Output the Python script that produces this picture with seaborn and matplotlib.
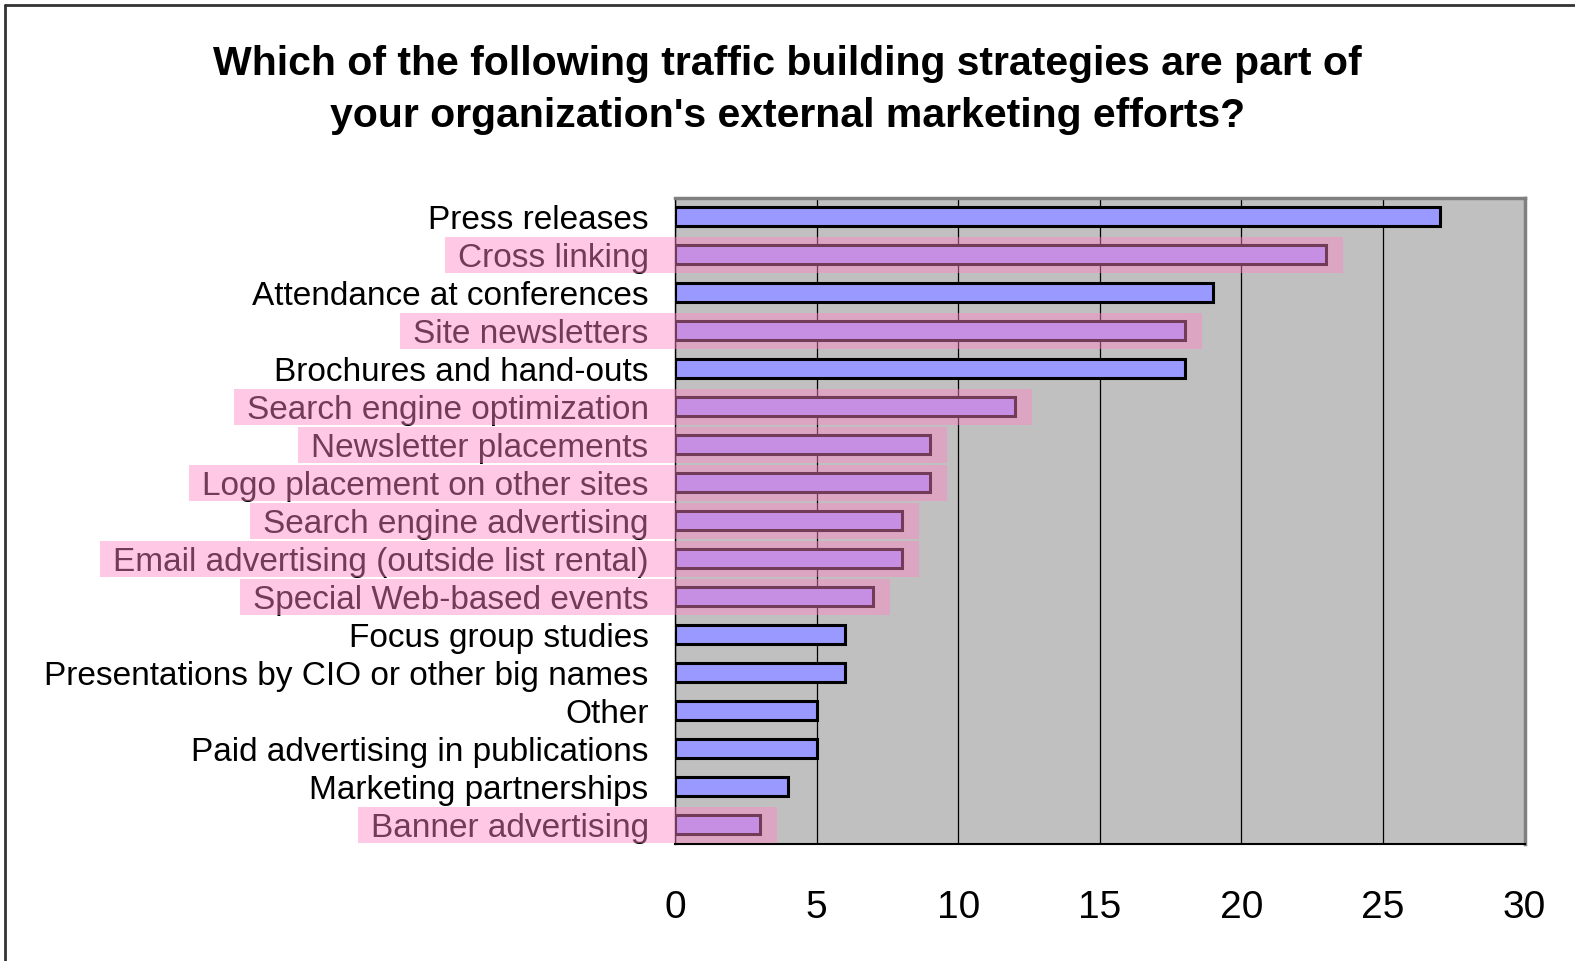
import numpy as np
import pandas as pd
import seaborn as sns
import matplotlib.pyplot as plt
from matplotlib.patches import Rectangle
from matplotlib.lines import Line2D

# data
strategies = [
    "Press releases", "Cross linking", "Attendance at conferences",
    "Site newsletters", "Brochures and hand-outs", "Search engine optimization",
    "Newsletter placements", "Logo placement on other sites",
    "Search engine advertising", "Email advertising (outside list rental)",
    "Special Web-based events", "Focus group studies",
    "Presentations by CIO or other big names", "Other",
    "Paid advertising in publications", "Marketing partnerships",
    "Banner advertising",
]
counts = [27, 23, 19, 18, 18, 12, 9, 9, 8, 8, 7, 6, 6, 5, 5, 4, 3]
highlighted = [
    "Cross linking", "Site newsletters", "Search engine optimization",
    "Newsletter placements", "Logo placement on other sites",
    "Search engine advertising", "Email advertising (outside list rental)",
    "Special Web-based events", "Banner advertising",
]
x_ticks = [0, 5, 10, 15, 20, 25, 30]
title = ("Which of the following traffic building strategies are part of\n"
         "your organization's external marketing efforts?")

df = pd.DataFrame({"strategy": strategies, "count": counts})

sns.set_style("white")
plt.rcParams['font.family'] = ['Liberation Sans', 'DejaVu Sans']
plt.rcParams['text.color'] = 'black'
plt.rcParams['xtick.color'] = 'black'
plt.rcParams['ytick.color'] = 'black'

fig = plt.figure(figsize=(15.75, 9.61), dpi=100)
ax = fig.add_axes([0.4286, 0.122, 0.5394, 0.672])

sns.barplot(data=df, x="count", y="strategy", orient="h", ax=ax,
            color="#9999ff", saturation=1, width=0.5,
            edgecolor="black", linewidth=2.2, zorder=3)

ax.set_facecolor("#c0c0c0")
ax.set_xlim(0, 30)
ax.set_ylim(len(strategies) - 0.5, -0.5)
ax.set_xticks(x_ticks)
ax.set_xticklabels([str(t) for t in x_ticks], fontsize=28)
ax.tick_params(axis="x", direction="out", length=14, width=1, pad=19)
ax.xaxis.grid(True, color="black", linewidth=0.9, zorder=0)
ax.set_axisbelow(True)

# category labels, tick marks between categories (Excel style)
ax.set_yticks(np.arange(len(strategies)))
ax.set_yticklabels(strategies, fontsize=24)
ax.tick_params(axis="y", which="major", length=0, pad=19)
ax.set_yticks(np.arange(-0.5, len(strategies), 1), minor=True)
ax.tick_params(axis="y", which="minor", direction="out", length=8, width=1)
ax.set_xlabel("")
ax.set_ylabel("")

for side in ["top", "right"]:
    ax.spines[side].set_color("#808080")
    ax.spines[side].set_linewidth(2.5)
ax.spines["left"].set_color("black")
ax.spines["left"].set_linewidth(1)
ax.spines["bottom"].set_color("black")
ax.spines["bottom"].set_linewidth(1.5)

fig.suptitle(title, fontsize=29.5, fontweight="bold", y=0.953, va="top",
             linespacing=1.45, color="black")

# pink highlight overlay across the marked rows (label + bar)
fig.canvas.draw()
renderer = fig.canvas.get_renderer()
inv = ax.transData.inverted()
for lab, val in zip(ax.get_yticklabels(), counts):
    if lab.get_text() not in highlighted:
        continue
    bb = lab.get_window_extent(renderer)
    row = strategies.index(lab.get_text())
    x_left = inv.transform((bb.x0 - 13, 0))[0]
    x_right = val + 0.6
    ax.add_patch(Rectangle((x_left, row - 0.475), x_right - x_left, 0.95,
                           facecolor="#ff85c4", alpha=0.45, edgecolor="none",
                           clip_on=False, zorder=5))

# outer frame: only left and top edges visible in the reference
top_y = 1 - 5 / 961
left_x = 5 / 1575
fig.add_artist(Line2D([left_x, 1.0], [top_y, top_y], transform=fig.transFigure,
                      color="#333333", linewidth=2))
fig.add_artist(Line2D([left_x, left_x], [0.0, top_y], transform=fig.transFigure,
                      color="#333333", linewidth=2))

fig.savefig("out.png", dpi=100)
